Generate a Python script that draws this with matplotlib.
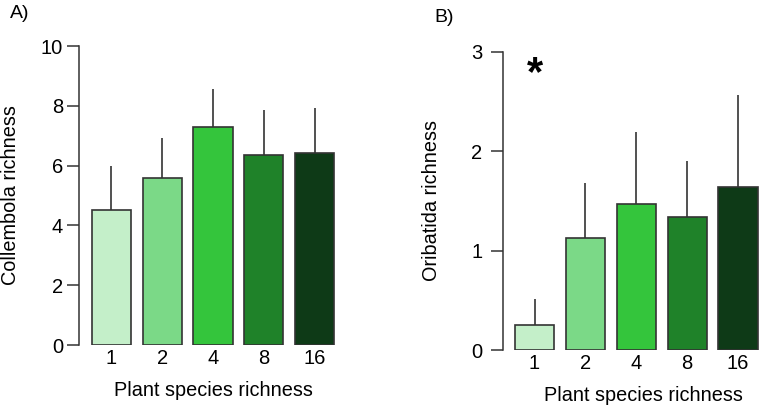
import matplotlib.pyplot as plt
import numpy as np

plt.rcParams['font.family'] = ['Liberation Sans', 'DejaVu Sans']

richness = ['1', '2', '4', '8', '16']
colors = ['#c4efc9', '#7bd987', '#34c53c', '#1f8229', '#0e3a17']

collembola_mean = [4.5, 5.6, 7.3, 6.35, 6.42]
collembola_err = [1.48, 1.33, 1.25, 1.52, 1.5]

oribatida_mean = [0.25, 1.13, 1.47, 1.335, 1.64]
oribatida_err = [0.26, 0.55, 0.72, 0.57, 0.92]

fig = plt.figure(figsize=(7.64, 4.07), dpi=100)

ax1 = fig.add_axes([0.1034, 0.1523, 0.3416, 0.7346])
ax2 = fig.add_axes([0.658, 0.140, 0.338, 0.733])

def draw(ax, means, errs, ylim, yticks, ylabel, xlim, ypad, lpad, xlab_x):
    x = np.arange(len(means))
    ax.bar(x, means, width=0.77, color=colors, edgecolor='#333333', linewidth=1.2, zorder=2)
    ax.errorbar(x, means, yerr=[np.zeros(len(errs)), errs], fmt='none',
                ecolor='#222222', elinewidth=1.1, capsize=0, zorder=1)
    ax.set_xlim(*xlim)
    ax.set_ylim(*ylim)
    ax.set_yticks(yticks)
    ax.set_xticks(x)
    ax.set_xticklabels(richness)
    for s in ['top', 'right', 'bottom']:
        ax.spines[s].set_visible(False)
    ax.spines['left'].set_linewidth(1.1)
    ax.spines['left'].set_color('#333333')
    ax.tick_params(axis='y', direction='out', length=8.5, width=1.1, color='#333333',
                   labelsize=14.5, pad=ypad)
    ax.tick_params(axis='x', length=0, labelsize=14.5, pad=3)
    ax.set_ylabel(ylabel, fontsize=14.3, labelpad=lpad)
    ax.set_xlabel('Plant species richness', fontsize=14.3, labelpad=9)
    ax.xaxis.label.set_x(xlab_x)

draw(ax1, collembola_mean, collembola_err, (0, 10), [0, 2, 4, 6, 8, 10],
     'Collembola richness', (-0.64, 4.5), 3, 15, 0.517)
draw(ax2, oribatida_mean, oribatida_err, (0, 3), [0, 1, 2, 3],
     'Oribatida richness', (-0.625, 4.45), 6, 22, 0.546)

ax2.text(0, 2.77, '*', fontsize=30, fontweight='bold', ha='center', va='center')

fig.text(0.013, 0.967, 'A)', fontsize=14, va='center')
fig.text(0.569, 0.957, 'B)', fontsize=14, va='center')

fig.savefig('out.png', dpi=100)
